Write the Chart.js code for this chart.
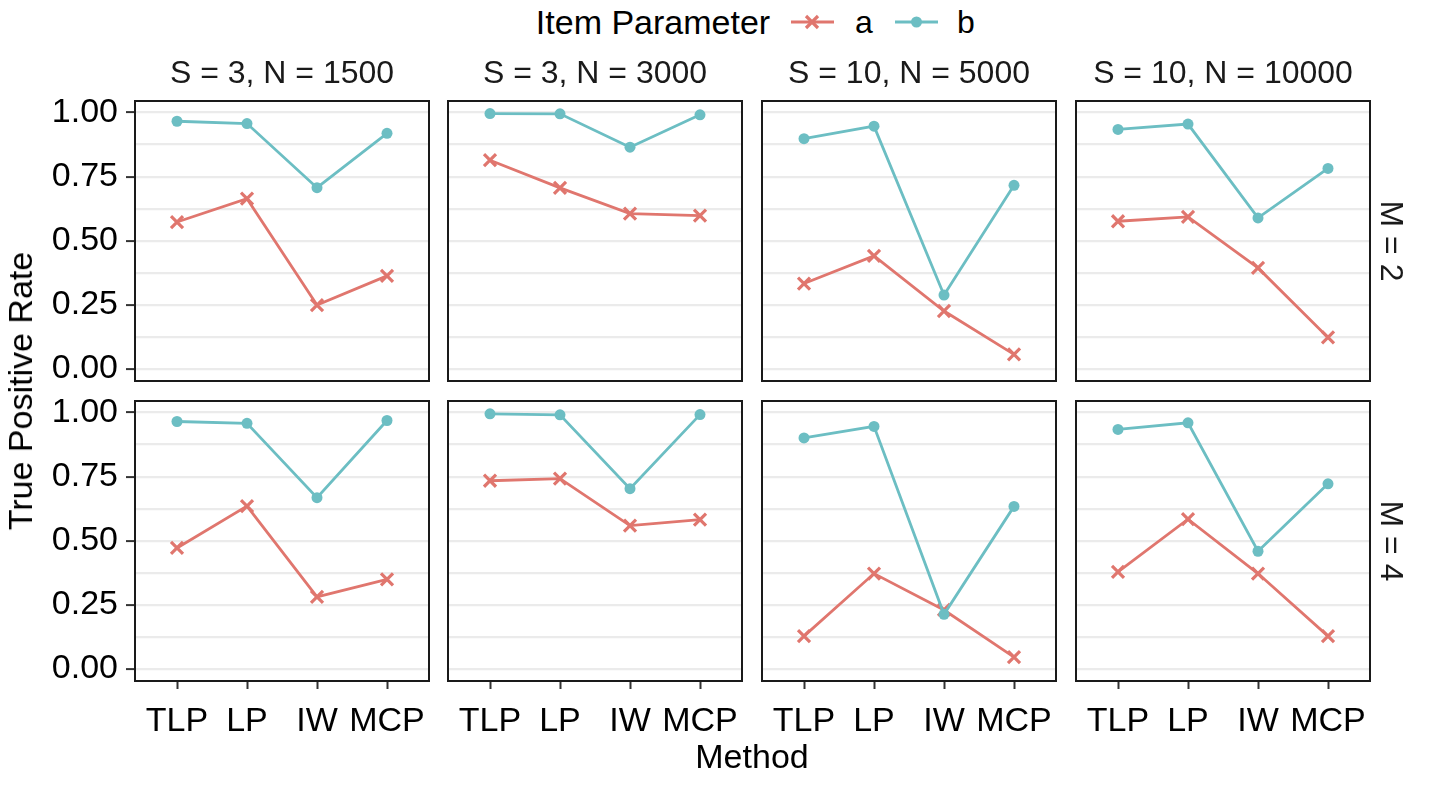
<!DOCTYPE html>
<html><head><meta charset="utf-8">
<script src="https://cdn.jsdelivr.net/npm/chart.js@4.4.0/dist/chart.umd.min.js"></script>
<style>
html,body{margin:0;padding:0;background:#fff;}
#wrap{position:relative;width:1429px;height:785px;overflow:hidden;font-family:'Liberation Sans',Arial,Helvetica,sans-serif;background:#fff;}
.cv{position:absolute;}
.txt{position:absolute;white-space:nowrap;color:#000;line-height:1;}
</style></head><body><div id="wrap"></div>
<script>
// ---------- data ----------
const methods = ['TLP', 'LP', 'IW', 'MCP'];
const colLabels = ['S = 3, N = 1500', 'S = 3, N = 3000', 'S = 10, N = 5000', 'S = 10, N = 10000'];
const rowLabels = ['M = 2', 'M = 4'];
const seriesNames = ['a', 'b'];
const legendTitle = 'Item Parameter';
const yAxisTitle = 'True Positive Rate';
const xAxisTitle = 'Method';
const yTickValues = [0, 0.125, 0.25, 0.375, 0.5, 0.625, 0.75, 0.875, 1];
const yTickLabels = ['0.00', '', '0.25', '', '0.50', '', '0.75', '', '1.00'];

const a_M2_S3N1500   = [0.573, 0.664, 0.249, 0.363];
const b_M2_S3N1500   = [0.966, 0.957, 0.707, 0.919];
const a_M2_S3N3000   = [0.814, 0.706, 0.606, 0.598];
const b_M2_S3N3000   = [0.996, 0.995, 0.865, 0.991];
const a_M2_S10N5000  = [0.333, 0.441, 0.226, 0.057];
const b_M2_S10N5000  = [0.898, 0.947, 0.288, 0.716];
const a_M2_S10N10000 = [0.576, 0.593, 0.394, 0.123];
const b_M2_S10N10000 = [0.934, 0.955, 0.589, 0.782];
const a_M4_S3N1500   = [0.472, 0.635, 0.281, 0.349];
const b_M4_S3N1500   = [0.965, 0.958, 0.668, 0.969];
const a_M4_S3N3000   = [0.734, 0.742, 0.559, 0.582];
const b_M4_S3N3000   = [0.995, 0.991, 0.703, 0.992];
const a_M4_S10N5000  = [0.128, 0.372, 0.230, 0.046];
const b_M4_S10N5000  = [0.901, 0.946, 0.213, 0.634];
const a_M4_S10N10000 = [0.379, 0.584, 0.372, 0.128];
const b_M4_S10N10000 = [0.934, 0.960, 0.459, 0.722];

const panelData = [
  [[a_M2_S3N1500, b_M2_S3N1500], [a_M2_S3N3000, b_M2_S3N3000], [a_M2_S10N5000, b_M2_S10N5000], [a_M2_S10N10000, b_M2_S10N10000]],
  [[a_M4_S3N1500, b_M4_S3N1500], [a_M4_S3N3000, b_M4_S3N3000], [a_M4_S10N5000, b_M4_S10N5000], [a_M4_S10N10000, b_M4_S10N10000]]
];

// ---------- style / layout ----------
const FONT = "'Liberation Sans', Arial, Helvetica, sans-serif";
const colA = '#E0766E', colB = '#6CBEC3';
const panelLeft = [135, 448, 762, 1076];
const panelTop = [101, 401];
const PW = 294, PH = 280, PADX = 20, PADY = 50;
const Y_MIN = -0.047, Y_MAX = 1.045;

const wrap = document.getElementById('wrap');
function addText(str, cx, cy, size, rot, color) {
  const d = document.createElement('div');
  d.className = 'txt';
  d.textContent = str;
  d.style.fontSize = size + 'px';
  d.style.left = cx + 'px';
  d.style.top = cy + 'px';
  if (color) d.style.color = color;
  d.style.transform = 'translate(-50%,-50%)' + (rot ? ' rotate(' + rot + 'deg)' : '');
  wrap.appendChild(d);
}

const borderPlugin = {
  id: 'panelBorder',
  afterDatasetsDraw(chart) {
    const { ctx, chartArea: a } = chart;
    ctx.save();
    ctx.strokeStyle = '#1a1a1a';
    ctx.lineWidth = 2;
    ctx.strokeRect(a.left, a.top, a.right - a.left, a.bottom - a.top);
    ctx.restore();
  }
};

function isMajor(v) { return Math.abs(v * 4 - Math.round(v * 4)) < 1e-6; }

for (let r = 0; r < 2; r++) {
  for (let c = 0; c < 4; c++) {
    const L = c === 0 ? 115 : 0;
    const B = r === 1 ? 70 : 0;
    const cv = document.createElement('canvas');
    cv.className = 'cv';
    const w = PW + L + 2 * PADX, h = PH + B + 2 * PADY;
    cv.width = w; cv.height = h;
    cv.style.width = w + 'px'; cv.style.height = h + 'px';
    cv.style.left = (panelLeft[c] - L - PADX) + 'px';
    cv.style.top = (panelTop[r] - PADY) + 'px';
    wrap.appendChild(cv);
    const [aVals, bVals] = panelData[r][c];
    new Chart(cv, {
      type: 'line',
      data: {
        datasets: [
          { label: seriesNames[0], data: aVals.map((v, i) => ({ x: i + 1, y: v })), borderColor: colA, backgroundColor: colA,
            borderWidth: 2.8, pointStyle: 'crossRot', pointRadius: 8.5, pointBorderWidth: 3.2, pointBorderColor: colA, order: 2, tension: 0 },
          { label: seriesNames[1], data: bVals.map((v, i) => ({ x: i + 1, y: v })), borderColor: colB, backgroundColor: colB,
            borderWidth: 2.8, pointStyle: 'circle', pointRadius: 5.5, pointBorderWidth: 0, pointBackgroundColor: colB, order: 1, tension: 0 }
        ]
      },
      options: {
        responsive: false, animation: false, devicePixelRatio: 1,
        layout: { padding: { left: PADX, right: PADX, top: PADY, bottom: PADY } },
        plugins: { legend: { display: false }, tooltip: { enabled: false }, title: { display: false } },
        scales: {
          x: {
            type: 'linear', min: 0.4, max: 4.6,
            afterBuildTicks: s => { s.ticks = methods.map((m, i) => ({ value: i + 1 })); },
            afterFit: s => { s.height = B; },
            ticks: { display: r === 1, autoSkip: false, maxRotation: 0, minRotation: 0, padding: 12,
              callback: (v, i) => methods[i], font: { family: FONT, size: 34 }, color: '#000' },
            grid: { color: 'rgba(0,0,0,0)', drawTicks: r === 1, tickLength: 8, tickColor: '#333333', tickWidth: 2 },
            border: { display: false }
          },
          y: {
            type: 'linear', min: Y_MIN, max: Y_MAX,
            afterBuildTicks: s => { s.ticks = yTickValues.map(v => ({ value: v })); },
            afterFit: s => { s.width = L; },
            ticks: { display: c === 0, autoSkip: false, padding: 8,
              callback: (v, i) => yTickLabels[i], font: { family: FONT, size: 34 }, color: '#000' },
            grid: { color: '#EBEBEB', lineWidth: 2.2, drawTicks: c === 0, tickLength: 9,
              tickColor: ctx => isMajor(ctx.tick.value) ? '#333333' : 'rgba(0,0,0,0)', tickWidth: 2 },
            border: { display: false }
          }
        }
      },
      plugins: [borderPlugin]
    });
  }
}

// strip labels
colLabels.forEach((t, c) => addText(t, panelLeft[c] + PW / 2, 72, 32, 0, '#1a1a1a'));
rowLabels.forEach((t, r) => addText(t, 1392, panelTop[r] + PH / 2, 32, 90, '#1a1a1a'));
// axis titles
addText(yAxisTitle, 20, 391, 34, -90);
addText(xAxisTitle, 752, 756, 34, 0);

// legend
(function () {
  addText(legendTitle, 653, 22, 34, 0);
  const keyA = document.createElement('div');
  keyA.style.cssText = 'position:absolute;left:791px;top:11px;width:43px;height:22px;';
  keyA.innerHTML = '<svg width="43" height="22"><line x1="0" y1="11" x2="43" y2="11" stroke="' + colA + '" stroke-width="3"/>' +
    '<line x1="15" y1="5" x2="27" y2="17" stroke="' + colA + '" stroke-width="3.2"/><line x1="27" y1="5" x2="15" y2="17" stroke="' + colA + '" stroke-width="3.2"/></svg>';
  wrap.appendChild(keyA);
  addText(seriesNames[0], 864, 22, 32, 0);
  const keyB = document.createElement('div');
  keyB.style.cssText = 'position:absolute;left:895px;top:11px;width:43px;height:22px;';
  keyB.innerHTML = '<svg width="43" height="22"><line x1="0" y1="11" x2="43" y2="11" stroke="' + colB + '" stroke-width="3"/>' +
    '<circle cx="21.5" cy="11" r="5.5" fill="' + colB + '"/></svg>';
  wrap.appendChild(keyB);
  addText(seriesNames[1], 966, 22, 32, 0);
})();
</script>
</body></html>
